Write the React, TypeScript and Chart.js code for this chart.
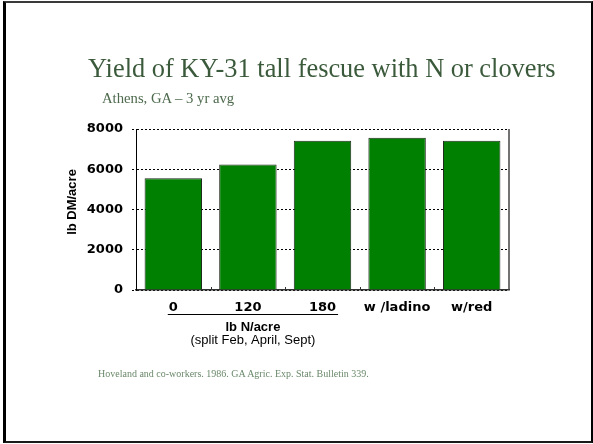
import { useEffect, useRef } from "react";
import { Chart, registerables } from "chart.js";

Chart.register(...registerables);

// Forage yield (lb dry matter / acre) by treatment
const categories = ["0", "120", "180", "w /ladino", "w/red"];
const yieldLbDm = [5550, 6240, 7410, 7560, 7420];
const yMin = 0;
const yMax = 8000;
const yStep = 2000;
// The first three categories are nitrogen rates and share one axis caption
const nRateCount = 3;

const TICK_FONT = "bold 13px 'DejaVu Sans', sans-serif";
const SANS = "'Liberation Sans', Arial, sans-serif";

const annotations = {
  id: "annotations",
  afterDraw(chart: any) {
    const { ctx, chartArea, scales } = chart;
    const x = scales.x;
    ctx.save();

    // right frame of the plot area
    ctx.strokeStyle = "#444";
    ctx.lineWidth = 1.5;
    ctx.beginPath();
    ctx.moveTo(chartArea.right, chartArea.top);
    ctx.lineTo(chartArea.right, chartArea.bottom);
    ctx.stroke();

    // short upward tick marks between categories
    ctx.strokeStyle = "#333";
    ctx.lineWidth = 1;
    for (let i = 1; i < categories.length; i++) {
      const px = Math.round((x.getPixelForValue(i - 1) + x.getPixelForValue(i)) / 2) + 0.5;
      ctx.beginPath();
      ctx.moveTo(px, chartArea.bottom);
      ctx.lineTo(px, chartArea.bottom - 3);
      ctx.stroke();
    }

    // bracket line under the N-rate labels
    ctx.font = TICK_FONT;
    const firstW = ctx.measureText(categories[0]).width;
    const lastW = ctx.measureText(categories[nRateCount - 1]).width;
    const x0 = x.getPixelForValue(0) - firstW / 2 - 1;
    const x1 = x.getPixelForValue(nRateCount - 1) + lastW / 2 + 2;
    const lineY = chartArea.bottom + 24.5;
    ctx.strokeStyle = "#000";
    ctx.lineWidth = 1;
    ctx.beginPath();
    ctx.moveTo(x0, lineY);
    ctx.lineTo(x1, lineY);
    ctx.stroke();

    const cx = (x0 + x1) / 2;
    ctx.fillStyle = "#000";
    ctx.textAlign = "center";
    ctx.textBaseline = "alphabetic";
    ctx.font = `bold 13px ${SANS}`;
    ctx.fillText("lb N/acre", cx, chartArea.bottom + 41);
    ctx.font = `13px ${SANS}`;
    ctx.fillText("(split Feb, April, Sept)", cx, chartArea.bottom + 54);

    // y axis title
    ctx.translate(chartArea.left - 64, (chartArea.top + chartArea.bottom) / 2 - 7.5);
    ctx.rotate(-Math.PI / 2);
    ctx.font = `bold 13px ${SANS}`;
    ctx.textBaseline = "middle";
    ctx.fillText("lb DM/acre", 0, 0);
    ctx.restore();
  },
};

function YieldChart() {
  const ref = useRef<HTMLCanvasElement | null>(null);

  useEffect(() => {
    if (!ref.current) return;
    const chart = new Chart(ref.current, {
      type: "bar",
      data: {
        labels: categories,
        datasets: [
          {
            data: yieldLbDm,
            backgroundColor: "#008000",
            borderColor: "#1e2a1e",
            borderWidth: 1,
            barPercentage: 0.77,
            categoryPercentage: 1,
          },
        ],
      },
      options: {
        animation: false,
        responsive: false,
        events: [],
        layout: { padding: { left: 60, right: 84, top: 129, bottom: 124 } },
        plugins: {
          legend: { display: false },
          tooltip: { enabled: false },
          title: { display: false },
        },
        scales: {
          x: {
            grid: { display: false, drawTicks: false },
            border: { display: true, color: "#333", width: 1.5 },
            ticks: {
              color: "#000",
              font: { family: "'DejaVu Sans', sans-serif", size: 13, weight: "bold" },
              padding: 10,
              maxRotation: 0,
              autoSkip: false,
            },
            afterFit(scale: any) {
              scale.height = 30;
            },
          },
          y: {
            min: yMin,
            max: yMax,
            grid: {
              color: "#000",
              lineWidth: 1,
              drawTicks: true,
              tickLength: 4,
              tickColor: "#000",
              tickBorderDash: [2, 2],
            },
            border: { display: true, color: "#000", width: 1, dash: [2, 2] },
            ticks: {
              stepSize: yStep,
              color: "#000",
              font: { family: "'DejaVu Sans', sans-serif", size: 13, weight: "bold" },
              padding: 9,
              callback: (value: any) => String(value),
            },
            afterFit(scale: any) {
              scale.width = 76;
            },
          },
        },
      },
      plugins: [annotations],
    });
    return () => chart.destroy();
  }, []);

  return (
    <canvas
      ref={ref}
      width={593}
      height={444}
      style={{ position: "absolute", left: 0, top: 0, width: 593, height: 444 }}
    />
  );
}

const serif = "'Liberation Serif', 'Times New Roman', serif";

export default function App() {
  return (
    <div
      style={{
        position: "fixed",
        left: 0,
        top: 0,
        width: 593,
        height: 444,
        background: "#fff",
        overflow: "hidden",
      }}
    >
      <div
        style={{
          position: "absolute",
          left: 3,
          top: 1,
          width: 590,
          height: 442,
          boxSizing: "border-box",
          borderLeft: "3px solid #000",
          borderTop: "2px solid #3a3a3a",
          borderRight: "2px solid #000",
          borderBottom: "2px solid #1a1a1a",
        }}
      />
      <YieldChart />
      <div
        style={{
          position: "absolute",
          left: 88,
          top: 54.6,
          fontFamily: serif,
          fontSize: 26.4,
          lineHeight: 1,
          color: "#3b5a3b",
          whiteSpace: "nowrap",
        }}
      >
        Yield of KY-31 tall fescue with N or clovers
      </div>
      <div
        style={{
          position: "absolute",
          left: 102,
          top: 90.7,
          fontFamily: serif,
          fontSize: 14.7,
          lineHeight: 1,
          color: "#4d6a4d",
          whiteSpace: "nowrap",
        }}
      >
        Athens, GA – 3 yr avg
      </div>
      <div
        style={{
          position: "absolute",
          left: 98,
          top: 368.6,
          fontFamily: serif,
          fontSize: 10,
          lineHeight: 1,
          color: "#6a886a",
          whiteSpace: "nowrap",
        }}
      >
        Hoveland and co-workers. 1986. GA Agric. Exp. Stat. Bulletin 339.
      </div>
    </div>
  );
}
